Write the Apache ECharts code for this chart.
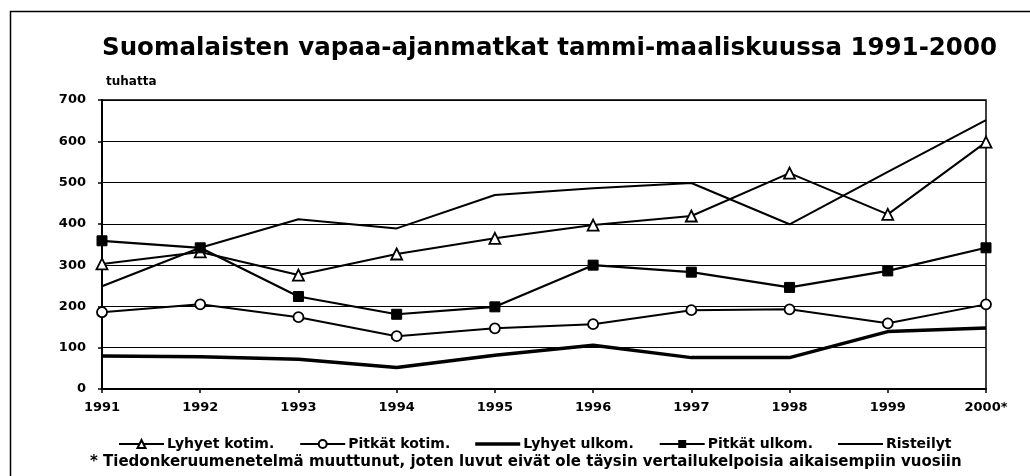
<!DOCTYPE html>
<html><head><meta charset="utf-8">
<script src="https://cdn.jsdelivr.net/npm/echarts@6/dist/echarts.min.js"></script>
<style>html,body{margin:0;padding:0;background:#fff}#c{width:1030px;height:476px}</style>
</head><body><div id="c"></div>
<script>
const years = ['1991','1992','1993','1994','1995','1996','1997','1998','1999','2000*'];
const yTicks = [0,100,200,300,400,500,600,700];
const lyhyetKotim = [303,332,276,327,365,397,419,523,423,598];
const pitkatKotim = [186,205,174,128,147,157,191,193,159,205];
const lyhyetUlkom = [80,78,72,52,82,106,76,76,139,148];
const pitkatUlkom = [359,342,224,181,199,300,283,246,286,342];
const risteilyt = [249,342,411,389,470,486,499,399,526,651];
const titleText = 'Suomalaisten vapaa-ajanmatkat tammi-maaliskuussa 1991-2000';
const unitText = 'tuhatta';
const footText = '* Tiedonkeruumenetelmä muuttunut, joten luvut eivät ole täysin vertailukelpoisia aikaisempiin vuosiin';

const F = 'DejaVu Sans';
const chart = echarts.init(document.getElementById('c'), null, {renderer:'canvas'});
const base = {type:'line', smooth:false, animation:false, color:'#000'};
chart.setOption({
  animation:false,
  backgroundColor:'#fff',
  title:{text:titleText, left:97, top:31, textStyle:{fontFamily:F, fontWeight:'bold', fontSize:24.5, color:'#000'}},
  grid:{left:102, right:44, top:100, bottom:87, show:true, borderColor:'#000', borderWidth:1.5, backgroundColor:'transparent'},
  legend:{left:113, top:432, itemWidth:45, itemHeight:10, itemGap:25,
    textStyle:{fontFamily:F, fontWeight:'bold', fontSize:14, color:'#000', padding:[0,0,0,-2]},
    data:[
      {name:'Lyhyet kotim.'},
      {name:'Pitkät kotim.'},
      {name:'Lyhyet ulkom.', icon:'path://M0,0L45,0L45,3.5L0,3.5Z'},
      {name:'Pitkät ulkom.'},
      {name:'Risteilyt', icon:'path://M0,0L45,0L45,2L0,2Z'}
    ]},
  xAxis:{type:'category', data:years, boundaryGap:false,
    axisLine:{lineStyle:{color:'#000', width:2}},
    axisTick:{show:true, length:4, lineStyle:{color:'#000', width:1.5}},
    axisLabel:{fontFamily:F, fontWeight:'bold', fontSize:13, color:'#000', margin:12}},
  yAxis:{type:'value', min:0, max:700, interval:100,
    name:unitText, nameLocation:'end', nameGap:12,
    nameTextStyle:{fontFamily:F, fontWeight:'bold', fontSize:12, color:'#000', align:'left', padding:[0,0,0,4]},
    axisLine:{show:true, lineStyle:{color:'#000', width:2}},
    axisTick:{show:true, length:4, lineStyle:{color:'#000', width:1.5}},
    splitLine:{lineStyle:{color:'#000', width:1}},
    axisLabel:{fontFamily:F, fontWeight:'bold', fontSize:13, color:'#000', margin:16,
      formatter:v=> yTicks.includes(v) ? String(v) : ''}},
  graphic:[
    {type:'rect', left:8, top:9, shape:{x:0,y:0,width:1040,height:500}, style:{fill:'none', stroke:'#000', lineWidth:1.5}, z:-1},
    {type:'text', left:90, top:455, style:{text:footText, font:'bold 15px "DejaVu Sans"', fill:'#000'}}
  ],
  series:[
    Object.assign({}, base, {name:'Lyhyet kotim.', data:lyhyetKotim, symbol:'triangle', symbolSize:11,
      lineStyle:{color:'#000', width:2}, itemStyle:{color:'#fff', borderColor:'#000', borderWidth:1.8}, z:5}),
    Object.assign({}, base, {name:'Pitkät kotim.', data:pitkatKotim, symbol:'circle', symbolSize:10,
      lineStyle:{color:'#000', width:2}, itemStyle:{color:'#fff', borderColor:'#000', borderWidth:1.8}, z:5}),
    Object.assign({}, base, {name:'Lyhyet ulkom.', data:lyhyetUlkom, symbol:'none', showSymbol:false,
      lineStyle:{color:'#000', width:3.5}, itemStyle:{color:'#000'}}),
    Object.assign({}, base, {name:'Pitkät ulkom.', data:pitkatUlkom, symbol:'rect', symbolSize:10,
      lineStyle:{color:'#000', width:2.2}, itemStyle:{color:'#000', borderColor:'#000'}, z:5}),
    Object.assign({}, base, {name:'Risteilyt', data:risteilyt, symbol:'none', showSymbol:false,
      lineStyle:{color:'#000', width:2}, itemStyle:{color:'#000'}})
  ]
});
</script></body></html>
